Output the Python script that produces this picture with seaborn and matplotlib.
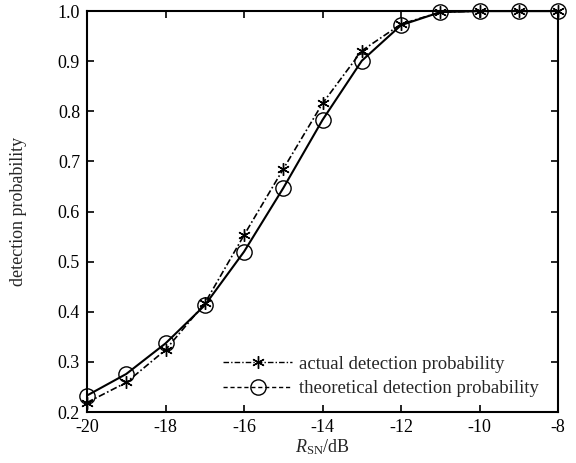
import pandas as pd
import matplotlib
matplotlib.use("Agg")
import matplotlib.pyplot as plt
from matplotlib.lines import Line2D
import seaborn as sns

# Data
snr_db = [-20, -19, -18, -17, -16, -15, -14, -13, -12, -11, -10, -9, -8]
actual_pd = [0.219, 0.259, 0.324, 0.417, 0.553, 0.685, 0.816, 0.921, 0.974, 0.998, 1.0, 1.0, 1.0]
theory_pd = [0.233, 0.276, 0.337, 0.413, 0.520, 0.647, 0.783, 0.901, 0.972, 0.998, 1.0, 1.0, 1.0]
x_ticks = [-20, -18, -16, -14, -12, -10, -8]
y_ticks = [0.2, 0.3, 0.4, 0.5, 0.6, 0.7, 0.8, 0.9, 1.0]

df = pd.DataFrame({"snr": snr_db, "actual": actual_pd, "theory": theory_pd})

sns.set_style("ticks")
plt.rcParams["font.family"] = ["Liberation Serif", "DejaVu Serif"]
plt.rcParams["mathtext.fontset"] = "custom"
plt.rcParams["mathtext.rm"] = "Liberation Serif"
plt.rcParams["mathtext.it"] = "Liberation Serif:italic"

fig = plt.figure(figsize=(5.76, 4.63), dpi=100)
ax = fig.add_axes([0.151, 0.110, 0.818, 0.866])

star = (6, 2, 0)
dashdot = (0, (4, 1.5, 1, 1.5))
sns.lineplot(data=df, x="snr", y="actual", ax=ax, color="black", linewidth=1.2,
             linestyle=dashdot, marker=star, markersize=9,
             markeredgewidth=1.0, markeredgecolor="black", clip_on=False, zorder=3)
sns.lineplot(data=df, x="snr", y="theory", ax=ax, color="black", linewidth=1.5,
             linestyle="-", marker="o", markersize=11, markerfacecolor="none",
             markeredgewidth=1.0, markeredgecolor="black", clip_on=False, zorder=3)

ax.set_xlim(-20, -8)
ax.set_ylim(0.2, 1.0)
ax.set_xticks(x_ticks)
ax.set_xticklabels([str(t) for t in x_ticks])
ax.set_yticks(y_ticks)
ax.set_yticklabels([f"{t:.1f}" for t in y_ticks])
ax.tick_params(direction="in", top=True, right=True, length=5, width=1.2,
               labelsize=13, colors="black", pad=5)
for s in ax.spines.values():
    s.set_linewidth(1.5)
    s.set_color("black")

ax.set_xlabel(r"$R_{\mathrm{SN}}$/dB", fontsize=13, labelpad=1)
ax.set_ylabel("detection probability", fontsize=13, labelpad=22)

handles = [
    Line2D([], [], color="black", linewidth=1.0, linestyle=(0, (4, 1.5, 1, 1.5)),
           marker=star, markersize=9, markeredgewidth=1.0),
    Line2D([], [], color="black", linewidth=1.0, linestyle=(0, (3, 2)),
           marker="o", markersize=11, markerfacecolor="none", markeredgewidth=1.0),
]
labels = ["actual detection probability", "theoretical detection probability"]
ax.legend(handles, labels, loc="lower right", bbox_to_anchor=(0.975, 0.018),
          frameon=False, fontsize=13.5, handlelength=3.7, handletextpad=0.35,
          labelspacing=0.4, borderaxespad=0.0)

fig.savefig("out.png", dpi=100)
